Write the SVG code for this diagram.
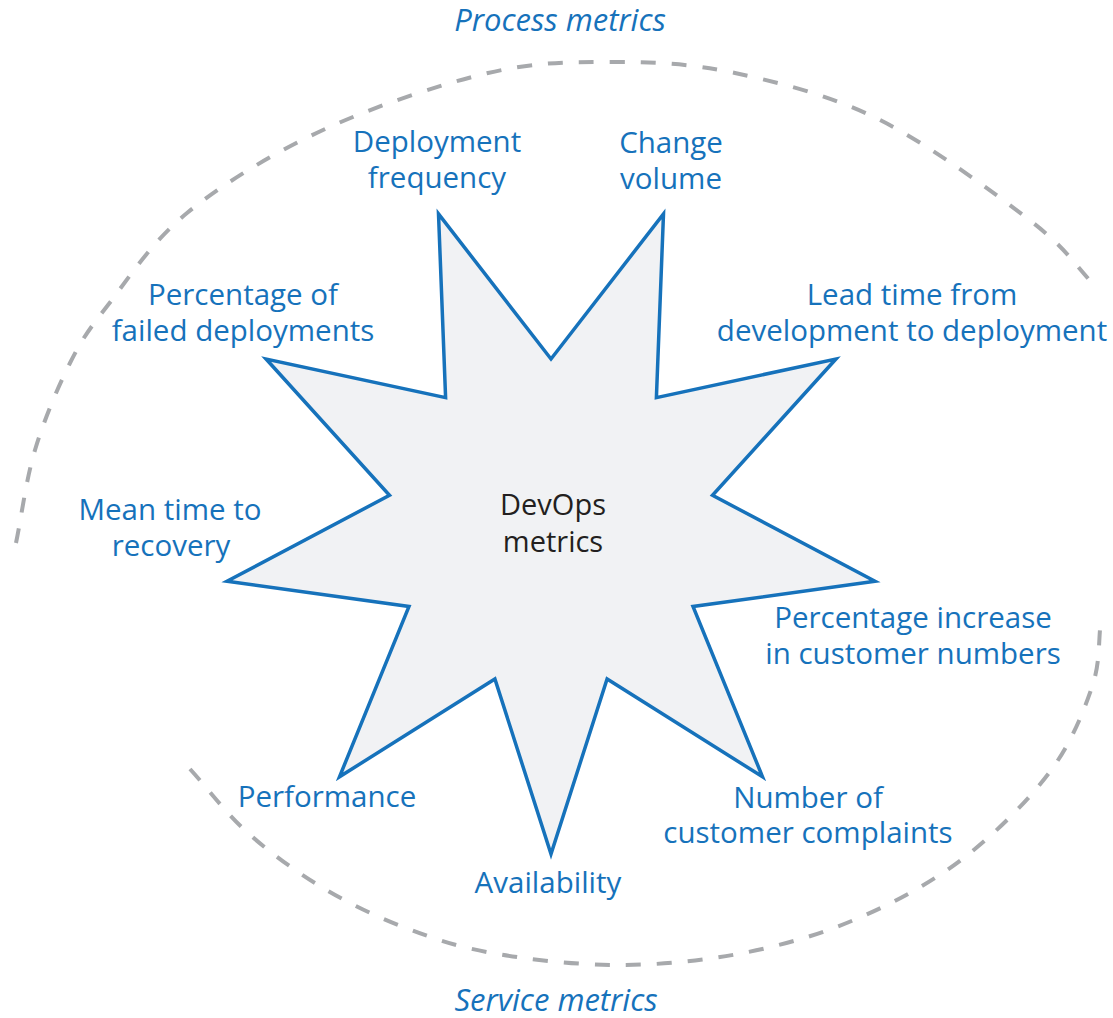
<svg xmlns="http://www.w3.org/2000/svg" width="1113" height="1018" viewBox="0 0 1113 1018">
  <style>
    .lbl { font-family: "Open Sans", "Noto Sans", sans-serif; font-size: 29.5px; fill: #1672bb; text-anchor: middle; }
    .grp { font-family: "Open Sans", "Noto Sans", sans-serif; font-size: 31px; font-style: italic; fill: #1672bb; text-anchor: middle; }
    .ctr { font-family: "Open Sans", "Noto Sans", sans-serif; font-size: 29px; fill: #231f20; text-anchor: middle; }
    .bound { fill: none; stroke: #a7a9ac; stroke-width: 4; stroke-dasharray: 15 16; }
    .star { fill: #f1f2f4; stroke: #1672bb; stroke-width: 3.5; stroke-linejoin: miter; stroke-miterlimit: 20; }
  </style>
  <rect width="1113" height="1018" fill="#ffffff"/>

  <g id="connectors">
    <path id="process-boundary" class="bound" d="M16,543 C22.3,512 26,480 35,450 C44,420 57.8,387.2 70,363 C82.2,338.8 88.5,330 108,305 C127.5,280 151.2,242.2 187,213 C222.8,183.8 272.8,153.3 323,130 C373.2,106.7 439.8,84.3 488,73 C536.2,61.7 570.8,62 612,62 C653.2,62 690.3,63.3 735,73 C779.7,82.7 830.5,95.2 880,120 C929.5,144.8 995.8,194 1032,222 C1068.2,250 1075.3,266 1097,288"/>
    <path id="service-boundary" class="bound" d="M190,769 C209.3,790.3 225.8,813.2 248,833 C270.2,852.8 296.7,872.2 323,888 C349.3,903.8 377.8,917.2 406,928 C434.2,938.8 457.2,946.8 492,953 C526.8,959.2 574,964.8 615,965 C656,965.2 698.2,961.5 738,954 C777.8,946.5 816.8,935.7 854,920 C891.2,904.3 928.5,884.5 961,860 C993.5,835.5 1027.2,801.8 1049,773 C1070.8,744.2 1083.3,712.5 1092,687 C1100.7,661.5 1098,642.3 1101,620"/>
  </g>

  <g id="devops-metrics">
    <polygon class="star" points="438.5,213.9 551,359 663.5,213.9 656.4,397.6 835.9,359 712.5,495.3 875,581.3 693,606.5 762.5,776.8 607.1,679 551,854 494.9,679 339.5,776.8 409,606.5 227,581.3 389.5,495.3 266.1,359 445.6,397.6"/>
    <text class="ctr" x="553" y="515">DevOps<tspan x="553" dy="37">metrics</tspan></text>
  </g>

  <g id="process-metrics">
    <text class="grp" x="560" y="31">Process metrics</text>
  </g>
  <g id="service-metrics">
    <text class="grp" x="556" y="1011">Service metrics</text>
  </g>

  <g id="deployment-frequency">
    <text class="lbl" x="437" y="152">Deployment<tspan x="437" dy="36">frequency</tspan></text>
  </g>
  <g id="change-volume">
    <text class="lbl" x="671" y="153">Change<tspan x="671" dy="36">volume</tspan></text>
  </g>
  <g id="lead-time">
    <text class="lbl" x="912" y="305">Lead time from<tspan x="912" dy="36">development to deployment</tspan></text>
  </g>
  <g id="failed-deployments">
    <text class="lbl" x="243" y="305">Percentage of<tspan x="243" dy="36">failed deployments</tspan></text>
  </g>
  <g id="mean-time-to-recovery">
    <text class="lbl" x="170" y="520">Mean time to<tspan x="171" dy="36">recovery</tspan></text>
  </g>
  <g id="customer-numbers">
    <text class="lbl" x="913" y="628">Percentage increase<tspan x="913" dy="36">in customer numbers</tspan></text>
  </g>
  <g id="performance">
    <text class="lbl" x="327" y="807">Performance</text>
  </g>
  <g id="availability">
    <text class="lbl" x="548" y="893">Availability</text>
  </g>
  <g id="customer-complaints">
    <text class="lbl" x="808" y="808">Number of<tspan x="808" dy="35">customer complaints</tspan></text>
  </g>
</svg>
